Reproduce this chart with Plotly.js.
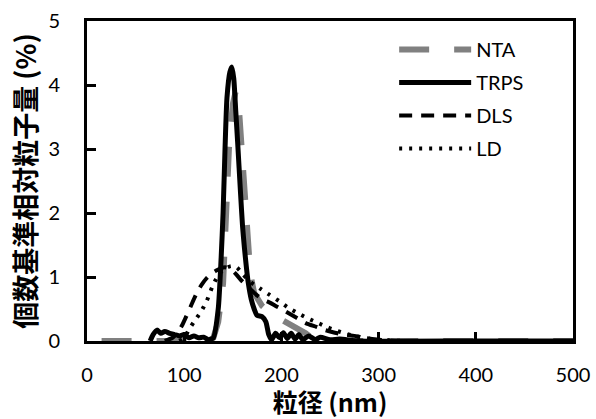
<!DOCTYPE html>
<html>
<head>
<meta charset="utf-8">
<script src="https://cdn.plot.ly/plotly-3.0.1.min.js"></script>
<style>html,body{margin:0;padding:0;background:#fff;}#chart{width:596px;height:419px;}</style>
</head>
<body>
<div id="chart"></div>
<script>
// Particle size (nm) and relative number-based amount (%)
const ntaX  = [15, 60, 100, 125, 130, 135, 140, 143, 146, 150, 153, 156, 160, 163, 166, 168, 172, 180, 190, 200, 210, 218, 225, 232, 240, 300, 400, 500];
const ntaY  = [0, 0, 0, 0, 0.05, 0.3, 0.9, 2.0, 3.0, 3.7, 3.9, 3.7, 2.8, 2.2, 1.5, 1.05, 0.75, 0.55, 0.42, 0.34, 0.26, 0.2, 0.12, 0.04, 0, 0, 0, 0];

const trpsX = [65, 68, 72, 76, 80, 85, 90, 95, 100, 105, 110, 115, 120, 125, 130, 135, 138, 140, 142, 144, 147, 149, 151, 153, 155, 158, 160, 162, 164, 166, 169, 172, 175, 180, 184, 187, 190, 194, 198, 202, 206, 210, 214, 218, 222, 228, 235, 240, 250, 260, 280, 400, 500];
const trpsY = [0, 0.1, 0.17, 0.12, 0.15, 0.12, 0.1, 0.08, 0.1, 0.05, 0.08, 0.05, 0.06, 0.02, 0.05, 0.5, 1.3, 2.0, 3.0, 3.8, 4.2, 4.28, 4.1, 3.6, 3.1, 2.3, 1.8, 1.45, 1.15, 0.9, 0.65, 0.5, 0.4, 0.38, 0.3, 0.1, 0.02, 0.12, 0.05, 0.13, 0.04, 0.12, 0.03, 0.1, 0.02, 0.08, 0.02, 0.06, 0.02, 0.03, 0, 0, 0];

const dlsX  = [80, 88, 93, 98, 102, 107, 112, 118, 123, 128, 133, 138, 143, 148, 153, 158, 164, 170, 176, 182, 188, 195, 200, 208, 216, 225, 236, 245, 255, 265, 275, 285, 300, 320, 400, 500];
const dlsY  = [0, 0.05, 0.12, 0.25, 0.38, 0.55, 0.72, 0.88, 0.98, 1.05, 1.1, 1.14, 1.15, 1.12, 1.05, 0.96, 0.87, 0.78, 0.7, 0.64, 0.6, 0.54, 0.5, 0.43, 0.36, 0.28, 0.22, 0.17, 0.13, 0.1, 0.08, 0.05, 0.02, 0, 0, 0];

const ldX   = [95, 100, 105, 110, 117, 123, 129, 136, 142, 148, 154, 160, 166, 172, 178, 188, 198, 206, 215, 225, 235, 245, 255, 265, 275, 285, 295, 310, 330, 400, 500];
const ldY   = [0, 0.05, 0.18, 0.3, 0.45, 0.62, 0.85, 1.05, 1.13, 1.17, 1.15, 1.05, 0.95, 0.88, 0.82, 0.72, 0.62, 0.53, 0.45, 0.37, 0.3, 0.23, 0.17, 0.12, 0.08, 0.05, 0.03, 0.01, 0, 0, 0];

const seriesNames = ['NTA', 'TRPS', 'DLS', 'LD'];
const xTicks = [0, 100, 200, 300, 400, 500];
const yTicks = [0, 1, 2, 3, 4, 5];

const tickFont = {family: 'Lato, "Open Sans", sans-serif', size: 20, color: '#000'};
const xTitleFont = {family: '"Noto Sans CJK JP", sans-serif', size: 25, color: '#000', weight: 'bold'};
const yTitleFont = {family: '"Noto Sans CJK JP", sans-serif', size: 27, color: '#000', weight: 'bold'};

const traces = [
  {x: ntaX, y: ntaY, name: seriesNames[0], legendgroup: 'g1', mode: 'lines',
   line: {color: '#808080', width: 6, dash: '30px,25px'}},
  {x: trpsX, y: trpsY, name: seriesNames[1], legendgroup: 'g2', mode: 'lines',
   line: {color: '#000000', width: 5, shape: 'spline', smoothing: 0.6}},
  {x: dlsX, y: dlsY, name: seriesNames[2], legendgroup: 'g3', mode: 'lines',
   line: {color: '#000000', width: 4, dash: '13px,9px', shape: 'spline', smoothing: 0.6}},
  {x: ldX, y: ldY, name: seriesNames[3], legendgroup: 'g4', mode: 'lines',
   line: {color: '#000000', width: 4, dash: '3px,7px', shape: 'spline', smoothing: 0.6}}
];

const layout = {
  width: 596, height: 419,
  margin: {l: 87, r: 23, t: 21, b: 78},
  paper_bgcolor: '#fff', plot_bgcolor: '#fff',
  showlegend: true,
  legend: {x: 0.632, y: 0.972, xanchor: 'left', yanchor: 'top',
           font: {family: 'Lato, "Open Sans", sans-serif', size: 20, color: '#000'},
           itemwidth: 72, tracegroupgap: 4, bgcolor: 'rgba(0,0,0,0)'},
  xaxis: {range: [0, 500], tickvals: xTicks, ticktext: xTicks.map(String),
          showgrid: false, zeroline: false, showline: true, linecolor: '#000', linewidth: 3,
          mirror: true, ticks: 'inside', ticklen: 9, tickwidth: 3, tickcolor: '#000',
          ticklabelstandoff: 14, tickfont: tickFont,
          title: {text: '粒径 (nm)', font: xTitleFont, standoff: 2}},
  yaxis: {range: [0, 5], tickvals: yTicks, ticktext: yTicks.map(String),
          showgrid: false, zeroline: false, showline: true, linecolor: '#000', linewidth: 3,
          mirror: true, ticks: 'inside', ticklen: 9, tickwidth: 3, tickcolor: '#000',
          ticklabelstandoff: 20, tickfont: tickFont,
          title: {text: '個数基準相対粒子量 (%)', font: yTitleFont, standoff: 4}}
};

Plotly.newPlot('chart', traces, layout, {staticPlot: true, displayModeBar: false});
</script>
</body>
</html>
